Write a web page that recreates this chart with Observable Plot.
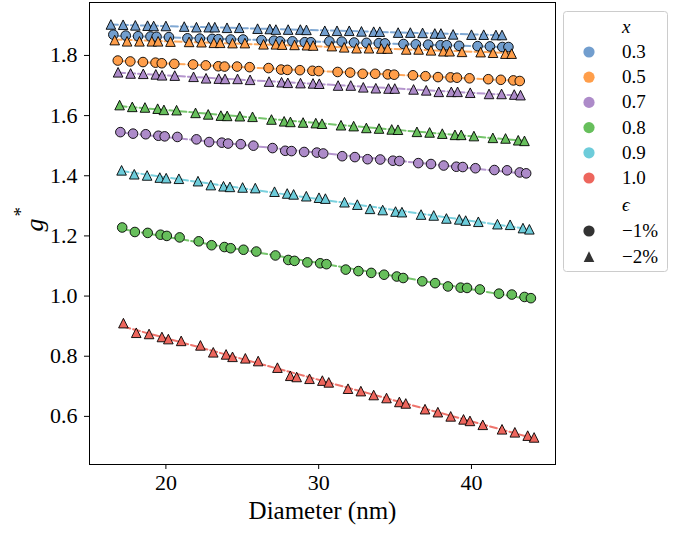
<!DOCTYPE html>
<html>
<head>
<meta charset="utf-8">
<script src="https://cdn.jsdelivr.net/npm/d3@7"></script>
<script src="https://cdn.jsdelivr.net/npm/@observablehq/plot@0.6"></script>
<style>
  html, body { margin: 0; padding: 0; background: white; }
  #wrap { position: relative; width: 694px; height: 533px; }
  #wrap svg { display: block; }
  #legend { position: absolute; left: 0; top: 0; pointer-events: none; }
</style>
</head>
<body>
<div id="wrap"></div>
<script>
// ---- categories / ticks ----
const compositions = ["0.3", "0.5", "0.7", "0.8", "0.9", "1.0"];
const compColors = ["#729ECE", "#FF9E4A", "#AD8BC9", "#67BF5C", "#6DCCDA", "#ED665D"];
const strains = ["−1%", "−2%"];
const xTicks = [20, 30, 40];
const yTicks = [0.6, 0.8, 1.0, 1.2, 1.4, 1.6, 1.8];

// ---- series values (diameter in nm, g*) ----
const d03a = [16.56,17.37,18.18,18.99,19.39,20.20,21.41,22.22,23.03,23.43,24.24,25.05,26.26,27.07,27.47,28.28,29.09,29.49,30.70,31.51,32.32,33.13,33.94,34.34,35.55,36.36,37.17,37.98,38.38,39.19,40.40,41.21,42.02,42.42];
const g03a = [1.869,1.866,1.864,1.863,1.862,1.861,1.857,1.856,1.855,1.854,1.853,1.853,1.851,1.849,1.847,1.847,1.844,1.844,1.847,1.846,1.843,1.842,1.841,1.840,1.838,1.837,1.836,1.834,1.834,1.832,1.831,1.830,1.828,1.828];
const d03b = [16.40,17.20,18.00,18.80,19.20,20.00,21.20,22.00,22.80,23.20,24.00,24.80,26.00,26.80,27.20,28.00,28.80,29.20,30.40,31.20,32.00,32.80,33.60,34.00,35.20,36.00,36.80,37.60,38.00,38.80,40.00,40.80,41.60,42.00];
const g03b = [1.903,1.902,1.900,1.899,1.898,1.898,1.896,1.894,1.894,1.894,1.892,1.892,1.889,1.888,1.886,1.886,1.886,1.885,1.882,1.882,1.882,1.880,1.879,1.879,1.876,1.876,1.875,1.873,1.873,1.870,1.869,1.869,1.868,1.868];
const d05a = [16.85,17.67,18.50,19.32,19.73,20.55,21.78,22.61,23.43,23.84,24.66,25.48,26.72,27.54,27.95,28.77,29.59,30.00,31.24,32.06,32.88,33.70,34.52,34.94,36.17,36.99,37.81,38.63,39.05,39.87,41.10,41.92,42.74,43.16];
const g05a = [1.783,1.780,1.778,1.776,1.774,1.772,1.770,1.767,1.764,1.763,1.763,1.761,1.758,1.753,1.752,1.751,1.749,1.748,1.745,1.743,1.739,1.739,1.737,1.736,1.734,1.731,1.728,1.727,1.726,1.724,1.721,1.719,1.717,1.715];
const d05b = [16.65,17.46,18.27,19.08,19.49,20.30,21.52,22.33,23.14,23.55,24.36,25.17,26.39,27.20,27.61,28.42,29.23,29.64,30.86,31.67,32.48,33.29,34.10,34.51,35.73,36.54,37.35,38.16,38.57,39.38,40.60,41.41,42.22,42.63];
const g05b = [1.851,1.847,1.847,1.847,1.847,1.846,1.845,1.844,1.842,1.842,1.841,1.841,1.837,1.837,1.836,1.835,1.834,1.833,1.831,1.827,1.824,1.824,1.823,1.823,1.820,1.820,1.817,1.814,1.814,1.812,1.811,1.809,1.806,1.806];
const d07a = [17.02,17.85,18.68,19.51,19.92,20.75,22.00,22.83,23.66,24.07,24.90,25.73,26.98,27.81,28.22,29.05,29.88,30.30,31.54,32.37,33.20,34.03,34.86,35.28,36.52,37.35,38.18,39.01,39.43,40.26,41.50,42.33,43.16,43.58];
const g07a = [1.545,1.540,1.538,1.533,1.531,1.529,1.521,1.512,1.510,1.507,1.505,1.500,1.492,1.483,1.482,1.479,1.477,1.474,1.465,1.462,1.455,1.454,1.450,1.449,1.442,1.439,1.434,1.430,1.429,1.425,1.419,1.418,1.411,1.408];
const d07b = [16.87,17.69,18.52,19.34,19.75,20.58,21.81,22.63,23.46,23.87,24.69,25.51,26.75,27.57,27.98,28.81,29.63,30.04,31.27,32.10,32.92,33.74,34.57,34.98,36.21,37.04,37.86,38.68,39.09,39.92,41.15,41.97,42.80,43.21];
const g07b = [1.744,1.740,1.739,1.737,1.734,1.733,1.729,1.724,1.723,1.722,1.722,1.719,1.713,1.711,1.709,1.708,1.707,1.706,1.700,1.700,1.694,1.691,1.690,1.690,1.687,1.684,1.679,1.679,1.679,1.676,1.672,1.672,1.670,1.668];
const d08a = [17.14,17.97,18.81,19.65,20.06,20.90,22.15,22.99,23.83,24.24,25.08,25.92,27.17,28.01,28.42,29.26,30.10,30.51,31.77,32.60,33.44,34.28,35.11,35.53,36.78,37.62,38.46,39.29,39.71,40.55,41.80,42.64,43.47,43.89];
const g08a = [1.228,1.213,1.210,1.204,1.200,1.195,1.182,1.169,1.163,1.159,1.154,1.148,1.135,1.120,1.117,1.112,1.109,1.106,1.088,1.083,1.077,1.071,1.065,1.060,1.049,1.043,1.032,1.028,1.027,1.022,1.008,1.005,0.997,0.993];
const d08b = [16.97,17.80,18.63,19.46,19.87,20.70,21.94,22.77,23.60,24.01,24.84,25.67,26.91,27.74,28.15,28.98,29.81,30.22,31.46,32.29,33.12,33.95,34.78,35.19,36.43,37.26,38.09,38.92,39.33,40.16,41.40,42.23,43.06,43.47];
const g08b = [1.635,1.629,1.627,1.623,1.619,1.618,1.609,1.604,1.600,1.599,1.598,1.596,1.587,1.581,1.579,1.577,1.575,1.573,1.568,1.565,1.559,1.557,1.554,1.553,1.546,1.544,1.540,1.536,1.536,1.532,1.526,1.524,1.518,1.516];
const d09b = [17.10,17.93,18.77,19.60,20.02,20.85,22.10,22.94,23.77,24.19,25.02,25.85,27.11,27.94,28.36,29.19,30.02,30.44,31.69,32.53,33.36,34.19,35.03,35.45,36.70,37.53,38.36,39.20,39.62,40.45,41.70,42.53,43.37,43.79];
const g09b = [1.418,1.405,1.401,1.394,1.392,1.390,1.382,1.369,1.365,1.363,1.361,1.359,1.347,1.341,1.338,1.332,1.327,1.324,1.312,1.304,1.290,1.286,1.281,1.279,1.271,1.268,1.258,1.255,1.251,1.247,1.239,1.237,1.226,1.222];
const d10b = [17.22,18.06,18.90,19.74,20.16,21.00,22.26,23.10,23.94,24.36,25.20,26.04,27.30,28.14,28.56,29.40,30.24,30.66,31.92,32.76,33.60,34.44,35.28,35.70,36.96,37.80,38.64,39.48,39.90,40.74,42.00,42.84,43.68,44.10];
const g10b = [0.910,0.878,0.874,0.864,0.857,0.851,0.836,0.813,0.806,0.798,0.793,0.784,0.762,0.735,0.731,0.725,0.719,0.713,0.692,0.684,0.671,0.661,0.648,0.643,0.624,0.614,0.600,0.590,0.585,0.572,0.557,0.547,0.536,0.530];

const seriesList = [
  {comp: "0.3", strain: "−1%", d: d03a, g: g03a},
  {comp: "0.3", strain: "−2%", d: d03b, g: g03b},
  {comp: "0.5", strain: "−1%", d: d05a, g: g05a},
  {comp: "0.5", strain: "−2%", d: d05b, g: g05b},
  {comp: "0.7", strain: "−1%", d: d07a, g: g07a},
  {comp: "0.7", strain: "−2%", d: d07b, g: g07b},
  {comp: "0.8", strain: "−1%", d: d08a, g: g08a},
  {comp: "0.8", strain: "−2%", d: d08b, g: g08b},
  {comp: "0.9", strain: "−2%", d: d09b, g: g09b},
  {comp: "1.0", strain: "−2%", d: d10b, g: g10b}
];
const data = seriesList.flatMap(s => s.d.map((d, i) => ({comp: s.comp, strain: s.strain, key: s.comp + s.strain, d, g: s.g[i]})));

// matplotlib-like "^" marker (bbox-centred)
const triangleUp = {
  draw(ctx, size) {
    const s = Math.sqrt(size / Math.PI);
    ctx.moveTo(0, -s); ctx.lineTo(s, s); ctx.lineTo(-s, s); ctx.closePath();
  }
};

const serif = "'Liberation Serif', 'DejaVu Serif', serif";
const chart = Plot.plot({
  width: 694, height: 533,
  marginLeft: 89, marginRight: 139, marginTop: 2, marginBottom: 69,
  style: {fontFamily: serif, fontSize: "22px", background: "white", color: "black"},
  x: {domain: [15, 45.5]},
  y: {domain: [0.44, 1.976]},
  color: {domain: compositions, range: compColors},
  symbol: {domain: strains, range: [d3.symbolCircle, triangleUp]},
  marks: [
    Plot.axisX({ticks: xTicks, tickSize: 5, tickPadding: 5, label: null, fontSize: 22, fontFamily: serif}),
    Plot.axisY({ticks: yTicks, tickSize: 5, tickPadding: 7, tickFormat: d3.format(".1f"), label: null, fontSize: 22, fontFamily: serif}),
    Plot.linearRegressionY(data, {x: "d", y: "g", z: "key", stroke: "comp", ci: 0, strokeWidth: 2, strokeDasharray: "7,3", strokeOpacity: 0.9}),
    Plot.dot(data, {x: "d", y: "g", fill: "comp", symbol: "strain", r: 4.8, stroke: "black", strokeWidth: 0.9}),
    Plot.frame({stroke: "black", strokeWidth: 1}),
    Plot.text(["Diameter (nm)"], {frameAnchor: "bottom", dy: 54, fontSize: 25, fontFamily: serif}),
    Plot.text(["g"], {frameAnchor: "left", dx: -55, dy: -2, rotate: -90, fontSize: 26, fontStyle: "italic", fontFamily: serif}),
    Plot.text(["*"], {frameAnchor: "left", dx: -69, dy: -17, rotate: -90, fontSize: 19, fontFamily: serif})
  ]
});

const wrap = document.getElementById("wrap");
wrap.appendChild(chart);

// ---- legend overlay ----
const leg = d3.select(wrap).append("svg")
  .attr("id", "legend").attr("width", 694).attr("height", 533)
  .style("font-family", serif);
leg.append("rect").attr("x", 563.5).attr("y", 11.5).attr("width", 104).attr("height", 260)
  .attr("rx", 3).attr("fill", "white").attr("stroke", "#cccccc").attr("stroke-width", 1);
const lx = 589, tx = 622, fs = 19;
leg.append("text").attr("x", tx).attr("y", 27).attr("dy", "0.32em").attr("font-size", fs)
  .attr("font-style", "italic").text("x");
compositions.forEach((c, i) => {
  const y = 52 + i * 25.2;
  leg.append("circle").attr("cx", lx).attr("cy", y).attr("r", 5.6).attr("fill", compColors[i]);
  leg.append("text").attr("x", tx).attr("y", y).attr("dy", "0.32em").attr("font-size", fs).text(c);
});
leg.append("text").attr("x", tx).attr("y", 205).attr("dy", "0.32em").attr("font-size", fs)
  .attr("font-style", "italic").text("ϵ");
strains.forEach((s, i) => {
  const y = 231 + i * 25.6;
  if (i === 0) {
    leg.append("circle").attr("cx", lx).attr("cy", y).attr("r", 5.6).attr("fill", "#333333");
  } else {
    leg.append("path").attr("d", d3.symbol(triangleUp, Math.PI * 5.3 * 5.3)()).attr("transform", `translate(${lx},${y})`).attr("fill", "#333333");
  }
  leg.append("text").attr("x", tx).attr("y", y).attr("dy", "0.32em").attr("font-size", fs).text(s);
});
</script>
</body>
</html>
